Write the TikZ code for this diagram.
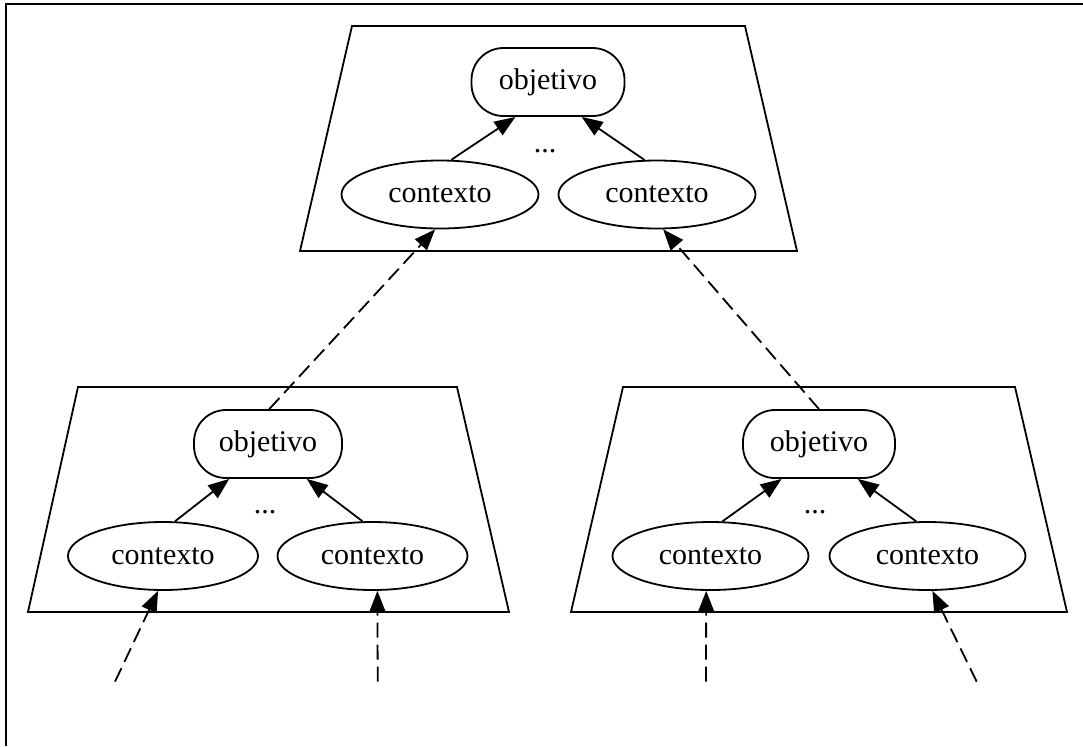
\documentclass[tikz,border=0pt]{standalone}
\usepackage{fontspec}
\setmainfont{Liberation Serif}
\usetikzlibrary{arrows.meta,shapes.geometric}
\begin{document}
\begin{tikzpicture}[x=0.5pt,y=-0.5pt,
  every node/.style={font=\fontsize{15pt}{18pt}\selectfont, inner sep=0pt},
  line/.style={line width=0.9pt},
  goalbox/.style={line, draw, rectangle, rounded corners=16pt,
    minimum width=76pt, minimum height=34pt},
  ctxbox/.style={line, draw, ellipse, minimum width=97pt, minimum height=34pt},
  cluster/.style={line, draw},
  tip/.style={-{Triangle[length=10.5pt,width=8pt]}},
  arr/.style={line, tip},
  darr/.style={line, tip, dash pattern=on 7.5pt off 3.5pt},
  dotslabel/.style={anchor=base}]
\useasboundingbox (0,0) rectangle (1083,746);

% frame (top and left edges)
\draw[line width=0.8pt] (5.8,746) -- (5.8,3.7) -- (1083,3.7);

% ---------- upper level ----------
\draw[cluster] (352,26) -- (745,26) -- (797,251) -- (300,251) -- cycle;
\node[goalbox, minimum width=76.5pt] (objT) at (548,82) {objetivo};
\node[ctxbox, minimum width=98.5pt] (ctxTL) at (440,194.5) {contexto};
\node[ctxbox, minimum width=98.5pt] (ctxTR) at (657,194.5) {contexto};
\node[dotslabel] (dotsT) at (545,152.5) {...};
\draw[arr] (ctxTL.72) -- (objT.227);
\draw[arr] (ctxTR.110) -- (objT.314);

% ---------- lower left ----------
\draw[cluster] (78,387) -- (457,387) -- (509,612) -- (28,612) -- cycle;
\node[goalbox, minimum width=74pt] (objL) at (268,444) {objetivo};
\node[ctxbox, minimum width=95pt] (ctxLL) at (163,556) {contexto};
\node[ctxbox, minimum width=95pt] (ctxLR) at (372.5,556) {contexto};
\node[dotslabel] (dotsL) at (265,513.5) {...};
\draw[arr] (ctxLL.71) -- (objL.222);
\draw[arr] (ctxLR.106) -- (objL.318);

% ---------- lower right ----------
\draw[cluster] (623,387) -- (1015,387) -- (1067,612) -- (571,612) -- cycle;
\node[goalbox, minimum width=76pt] (objR) at (819,444) {objetivo};
\node[ctxbox, minimum width=98pt] (ctxRL) at (710.5,556) {contexto};
\node[ctxbox, minimum width=98pt] (ctxRR) at (927.5,556) {contexto};
\node[dotslabel] (dotsR) at (815,513.5) {...};
\draw[arr] (ctxRL.71) -- (objR.223);
\draw[arr] (ctxRR.108) -- (objR.318);

% ---------- links between levels ----------
\draw[darr] (objL.88) -- (ctxTL.262);
\draw[darr] (objR.90) -- (ctxTR.280);

% ---------- incoming links from below ----------
\coordinate (inLL) at (115,681.7);
\coordinate (inLR) at (377.7,681.7);
\coordinate (inRL) at (706,681.7);
\coordinate (inRR) at (976.7,681.7);
\draw[darr] (inLL) -- (ctxLL.262);
\draw[darr] (inLR) -- (ctxLR.278);
\draw[darr] (inRL) -- (ctxRL.263);
\draw[darr] (inRR) -- (ctxRR.278);
\end{tikzpicture}
\end{document}
